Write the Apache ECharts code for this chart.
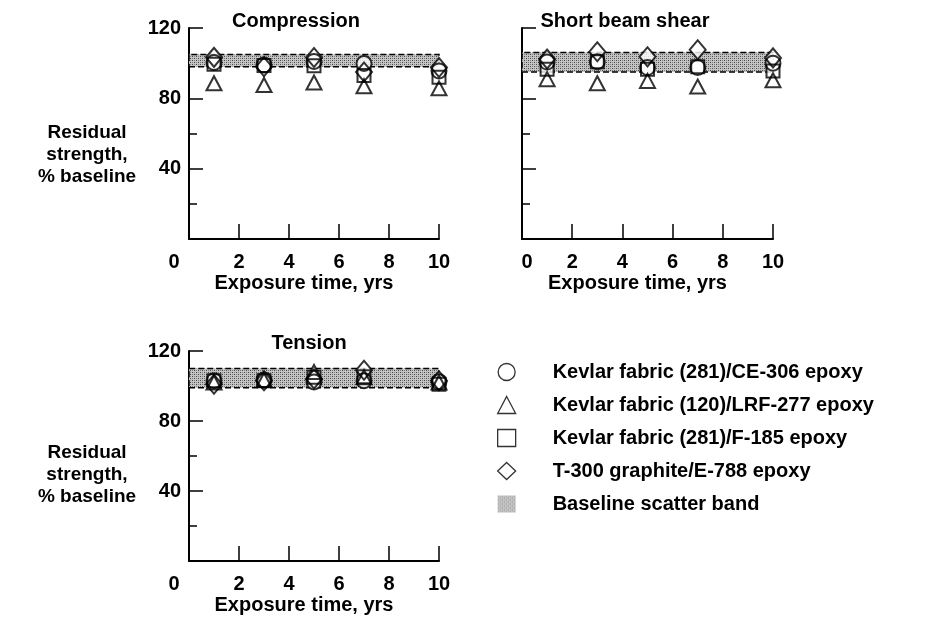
<!DOCTYPE html>
<html>
<head>
<meta charset="utf-8">
<script src="https://cdn.jsdelivr.net/npm/echarts@6/dist/echarts.min.js"></script>
<style>
html, body { margin: 0; padding: 0; background: #fff; }
#main { width: 936px; height: 624px; }
</style>
</head>
<body>
<div id="main"></div>
<script>
// exposure years (x)
const years = [1, 3, 5, 7, 10];

// residual strength, % baseline
const compCircle   = [100.4, 99.0, 101.0, 99.8, 95.6];
const compTriangle = [88.6, 87.6, 89.0, 86.9, 85.7];
const compSquare   = [99.4, 98.7, 98.5, 93.0, 92.0];
const compDiamond  = [103.3, 98.0, 103.2, 95.0, 97.5];

const sbsCircle    = [100.6, 100.8, 97.5, 97.5, 100.0];
const sbsTriangle  = [90.9, 88.6, 89.9, 86.7, 90.3];
const sbsSquare    = [96.6, 100.8, 96.6, 97.9, 95.6];
const sbsDiamond   = [102.3, 106.5, 103.6, 107.6, 103.0];

const tenCircle    = [103.0, 103.4, 102.3, 103.0, 102.5];
const tenTriangle  = [102.0, 103.4, 108.0, 105.0, 102.0];
const tenSquare    = [103.0, 103.0, 105.0, 105.3, 101.0];
const tenDiamond   = [101.0, 103.0, 104.0, 109.0, 103.0];

// baseline scatter band [low, high] per panel
const bandLow  = [98, 95, 99];
const bandHigh = [105, 106, 110];

const panelTitles = ['Compression', 'Short beam shear', 'Tension'];
const seriesNames = [
    'Kevlar fabric (281)/CE-306 epoxy',
    'Kevlar fabric (120)/LRF-277 epoxy',
    'Kevlar fabric (281)/F-185 epoxy',
    'T-300 graphite/E-788 epoxy'
];
const bandName = 'Baseline scatter band';

const FONT = '"Liberation Sans", Arial, Helvetica, sans-serif';
const symbols = ['circle', 'triangle', 'rect', 'diamond'];
const symbolSizes = [15, [15, 14], 13, [16, 19]];

// dotted grey texture for the band
const tex = document.createElement('canvas');
tex.width = 4; tex.height = 4;
const tctx = tex.getContext('2d');
tctx.fillStyle = '#c4c4c4';
tctx.fillRect(0, 0, 4, 4);
tctx.fillStyle = '#4a4a4a';
tctx.fillRect(0, 0, 1, 1);
tctx.fillRect(2, 2, 1, 1);
tctx.fillStyle = '#808080';
tctx.fillRect(2, 0, 1, 1);
tctx.fillRect(0, 2, 1, 1);
const bandFill = { image: tex, repeat: 'repeat' };

const panelData = [
    [compCircle, compTriangle, compSquare, compDiamond],
    [sbsCircle, sbsTriangle, sbsSquare, sbsDiamond],
    [tenCircle, tenTriangle, tenSquare, tenDiamond]
];

const grids = [
    { left: 189, top: 28, width: 250, height: 211 },
    { left: 522, top: 28, width: 251, height: 211 },
    { left: 189, top: 351, width: 250, height: 210 }
];

const labelStyle = { fontFamily: FONT, fontWeight: 'bold', fontSize: 20, color: '#000' };

let xAxes = [], yAxes = [], series = [];

grids.forEach((g, i) => {
    const zeroPad = i === 1 ? [0, 0, 0, 10] : [0, 30, 0, 0];
    xAxes.push({
        gridIndex: i, type: 'value', min: 0, max: 10, interval: 2,
        name: 'Exposure time, yrs', nameLocation: 'middle', nameGap: 34,
        nameTextStyle: Object.assign({}, labelStyle, { padding: [0, 20, 0, 0] }),
        axisLine: { show: true, onZero: false, lineStyle: { color: '#000', width: 2 } },
        axisTick: { inside: true, length: 15, lineStyle: { color: '#000', width: 1.5 } },
        splitLine: { show: false },
        axisLabel: Object.assign({}, labelStyle, {
            margin: 13,
            formatter: v => v === 0 ? '{z|0}' : String(v),
            rich: { z: Object.assign({}, labelStyle, { padding: zeroPad }) }
        })
    });
    yAxes.push({
        gridIndex: i, type: 'value', min: 0, max: 120, interval: 40,
        axisLine: { show: true, onZero: false, lineStyle: { color: '#000', width: 2 } },
        axisTick: { show: true, inside: true, length: 14, lineStyle: { color: '#000', width: 1.5 } },
        minorTick: { show: true, splitNumber: 2, length: 8, lineStyle: { color: '#000', width: 1.5 } },
        splitLine: { show: false },
        minorSplitLine: { show: false },
        axisLabel: Object.assign({}, labelStyle, {
            show: i !== 1, margin: 8,
            formatter: v => v === 0 ? '' : String(v)
        })
    });

    // band
    series.push({
        type: 'scatter', name: bandName, xAxisIndex: i, yAxisIndex: i,
        data: [], z: 1, silent: true,
        itemStyle: { color: bandFill },
        markArea: {
            silent: true,
            itemStyle: { color: bandFill, borderColor: '#000', borderType: 'dashed', borderWidth: 1.5 },
            data: [[{ xAxis: 0, yAxis: bandLow[i] }, { xAxis: 10, yAxis: bandHigh[i] }]]
        }
    });

    panelData[i].forEach((vals, k) => {
        const pts = years.map((x, j) => [x, vals[j]]);
        // white interior
        series.push({
            type: 'scatter', xAxisIndex: i, yAxisIndex: i, silent: true, z: 3,
            symbol: symbols[k], symbolSize: symbolSizes[k],
            itemStyle: { color: '#fff' },
            data: pts
        });
        // black outline
        series.push({
            type: 'scatter', name: seriesNames[k], xAxisIndex: i, yAxisIndex: i, z: 4,
            symbol: symbols[k], symbolSize: symbolSizes[k],
            itemStyle: { color: 'rgba(255,255,255,0)', borderColor: '#000', borderWidth: 2 },
            data: pts
        });
    });
});

const titleStyle = { fontFamily: FONT, fontWeight: 'bold', fontSize: 20, color: '#000' };
const yNameStyle = { fontFamily: FONT, fontWeight: 'bold', fontSize: 19, color: '#000', lineHeight: 22 };

const option = {
    backgroundColor: '#fff',
    animation: false,
    title: [
        { text: panelTitles[0], left: 291, top: 6, textAlign: 'center', textStyle: titleStyle },
        { text: panelTitles[1], left: 620, top: 6, textAlign: 'center', textStyle: titleStyle },
        { text: panelTitles[2], left: 304, top: 328, textAlign: 'center', textStyle: titleStyle },
        { text: 'Residual\nstrength,\n% baseline', left: 82, top: 117, textAlign: 'center', textStyle: yNameStyle },
        { text: 'Residual\nstrength,\n% baseline', left: 82, top: 437, textAlign: 'center', textStyle: yNameStyle }
    ],
    legend: {
        orient: 'vertical', left: 492, top: 357,
        itemWidth: 18, itemHeight: 17, itemGap: 13,
        selectedMode: false,
        itemStyle: { borderWidth: 1.3 },
        textStyle: { fontFamily: FONT, fontWeight: 'bold', fontSize: 20, color: '#000', lineHeight: 20, padding: [0, 0, 0, 32] },
        data: [
            { name: seriesNames[0], icon: 'circle' },
            { name: seriesNames[1], icon: 'triangle' },
            { name: seriesNames[2], icon: 'rect' },
            { name: seriesNames[3], icon: 'diamond' },
            { name: bandName, icon: 'rect' }
        ]
    },
    grid: grids,
    xAxis: xAxes,
    yAxis: yAxes,
    series: series
};

const chart = echarts.init(document.getElementById('main'));
chart.setOption(option);
</script>
</body>
</html>
